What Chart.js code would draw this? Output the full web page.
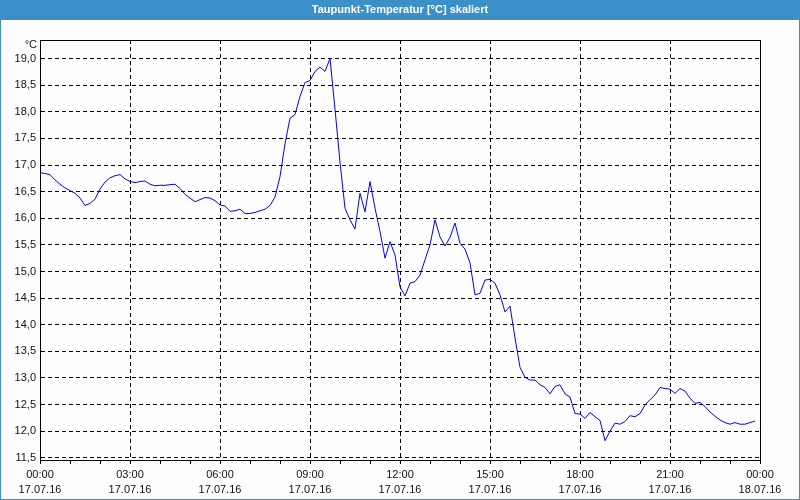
<!DOCTYPE html>
<html>
<head>
<meta charset="utf-8">
<script src="https://cdn.jsdelivr.net/npm/chart.js@4"></script>
<style>
    html, body { margin: 0; padding: 0; background: #fff; }
</style>
</head>
<body>
<canvas id="chart" width="800" height="500"></canvas>
<script>
const chartTitle = 'Taupunkt-Temperatur [°C] skaliert';
const unitLabel = '°C';
const stepMinutes = 10;

// Taupunkt alle 10 Minuten, 17.07.16 00:00 bis 23:50
const dewPoint = [
    16.86, 16.84, 16.82, 16.72, 16.64, 16.57, 16.52, 16.47, 16.38, 16.24, 16.28, 16.36,
    16.55, 16.68, 16.76, 16.80, 16.82, 16.74, 16.69, 16.67, 16.69, 16.70, 16.64, 16.61,
    16.62, 16.62, 16.63, 16.64, 16.56, 16.45, 16.38, 16.31, 16.35, 16.39, 16.38, 16.33,
    16.25, 16.23, 16.13, 16.14, 16.17, 16.09, 16.09, 16.11, 16.14, 16.17, 16.24, 16.40,
    16.78, 17.40, 17.88, 17.95, 18.29, 18.55, 18.59, 18.76, 18.84, 18.76, 19.00, 18.05,
    17.05, 16.19, 15.97, 15.80, 16.47, 16.12, 16.69, 16.19, 15.75, 15.25, 15.56, 15.31,
    14.71, 14.54, 14.78, 14.81, 14.93, 15.22, 15.50, 15.97, 15.65, 15.48, 15.64, 15.91,
    15.53, 15.42, 15.16, 14.56, 14.59, 14.84, 14.85, 14.78, 14.56, 14.24, 14.35, 13.75,
    13.20, 13.01, 12.96, 12.96, 12.87, 12.82, 12.70, 12.84, 12.87, 12.70, 12.64, 12.33,
    12.32, 12.24, 12.35, 12.27, 12.20, 11.82, 12.00, 12.15, 12.13, 12.18, 12.29, 12.27,
    12.33, 12.49, 12.59, 12.68, 12.82, 12.80, 12.79, 12.71, 12.80, 12.75, 12.62, 12.52,
    12.54, 12.46, 12.36, 12.28, 12.21, 12.16, 12.13, 12.16, 12.13, 12.13, 12.16, 12.19
];

const xTickTimes = ['00:00', '03:00', '06:00', '09:00', '12:00', '15:00', '18:00', '21:00', '00:00'];
const xTickDates = ['17.07.16', '17.07.16', '17.07.16', '17.07.16', '17.07.16', '17.07.16', '17.07.16', '17.07.16', '18.07.16'];
const yTicks = [11.5, 12.0, 12.5, 13.0, 13.5, 14.0, 14.5, 15.0, 15.5, 16.0, 16.5, 17.0, 17.5, 18.0, 18.5, 19.0];

const fontFamily = '"Liberation Sans", Arial, sans-serif';
const barColor = '#3c90c8';

const framePlugin = {
    id: 'frame',
    beforeDraw(chart) {
        const { ctx, width, height } = chart;
        ctx.save();
        ctx.fillStyle = '#fcfdfc';
        ctx.fillRect(0, 0, width, height);
        ctx.fillStyle = barColor;
        ctx.fillRect(0, 0, width, 20);
        ctx.strokeStyle = barColor;
        ctx.lineWidth = 1;
        ctx.strokeRect(0.5, 0.5, width - 1, height - 1);
        ctx.fillStyle = '#ffffff';
        ctx.font = 'bold 11px ' + fontFamily;
        ctx.textAlign = 'center';
        ctx.textBaseline = 'middle';
        ctx.fillText(chartTitle, width / 2, 10);
        ctx.restore();
    },
    afterDraw(chart) {
        const { ctx, chartArea: a } = chart;
        ctx.save();
        ctx.strokeStyle = '#000';
        ctx.lineWidth = 1;
        ctx.strokeRect(Math.round(a.left) + 0.5, Math.round(a.top) + 0.5,
            Math.round(a.right - a.left), Math.round(a.bottom - a.top));
        ctx.fillStyle = '#111';
        ctx.font = '11px ' + fontFamily;
        ctx.textAlign = 'right';
        ctx.textBaseline = 'middle';
        ctx.fillText(unitLabel, a.left - 3, a.top + 5);
        ctx.restore();
    }
};

new Chart(document.getElementById('chart').getContext('2d'), {
    type: 'line',
    data: {
        datasets: [{
            label: 'Taupunkt',
            data: dewPoint.map((v, i) => ({ x: i * stepMinutes / 60, y: v })),
            borderColor: '#0000ff',
            borderWidth: 1,
            pointRadius: 0,
            tension: 0,
            fill: false
        }]
    },
    options: {
        responsive: false,
        animation: false,
        layout: { padding: { top: 40, right: 40, left: 0, bottom: 0 } },
        plugins: {
            legend: { display: false },
            tooltip: { enabled: false },
            title: { display: false }
        },
        scales: {
            x: {
                type: 'linear',
                min: 0,
                max: 24,
                afterFit: scale => { scale.height = 40; },
                grid: {
                    color: c => (c.tick && c.tick.value % 3 === 0) ? '#000' : 'rgba(0,0,0,0)',
                    tickColor: '#000',
                    tickLength: 4,
                    lineWidth: 1
                },
                border: { display: true, color: '#000', dash: [4, 3] },
                ticks: {
                    stepSize: 1,
                    autoSkip: false,
                    maxRotation: 0,
                    padding: 3,
                    color: '#111',
                    font: { family: fontFamily, size: 11, lineHeight: 1.4 },
                    callback: v => v % 3 === 0 ? [xTickTimes[v / 3], xTickDates[v / 3]] : ''
                }
            },
            y: {
                min: 11.457,
                max: 19.35,
                afterFit: scale => { scale.width = 40; },
                afterBuildTicks: scale => { scale.ticks = yTicks.map(v => ({ value: v })); },
                grid: { color: '#000', drawTicks: false, lineWidth: 1 },
                border: { display: true, color: '#000', dash: [4, 3] },
                ticks: {
                    padding: 4,
                    color: '#111',
                    font: { family: fontFamily, size: 11 },
                    callback: v => v.toFixed(1).replace('.', ',')
                }
            }
        }
    },
    plugins: [framePlugin]
});
</script>
</body>
</html>
